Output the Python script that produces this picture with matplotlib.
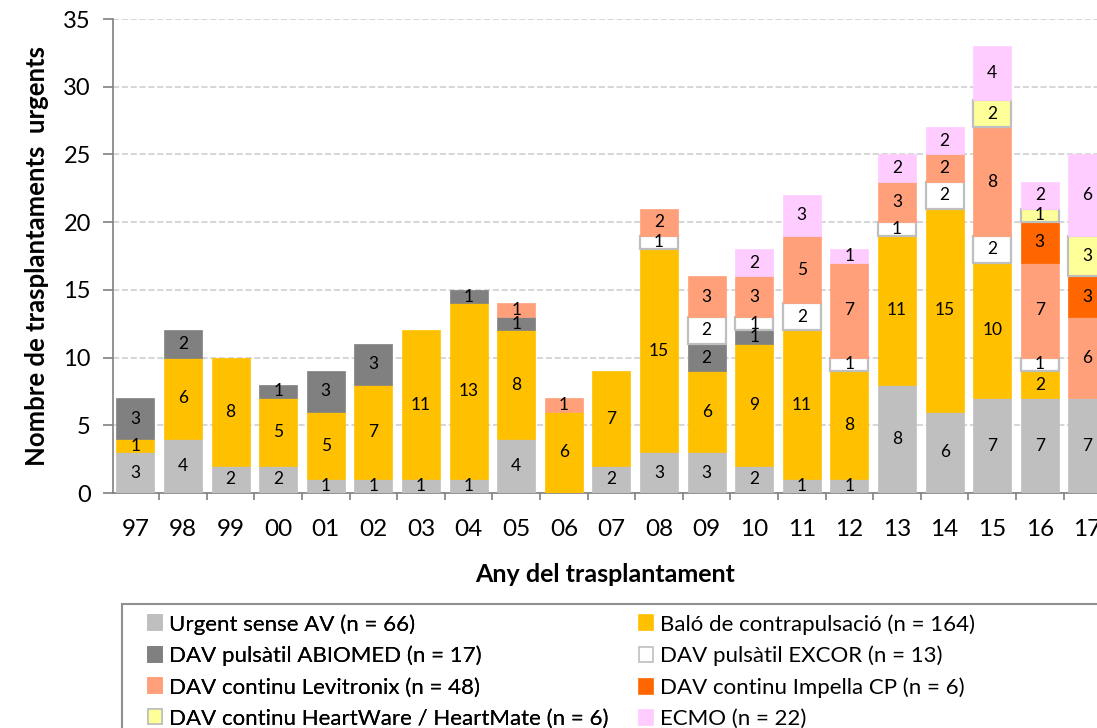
import numpy as np
import matplotlib.pyplot as plt
from matplotlib.patches import Rectangle, Patch

plt.rcParams['font.family'] = ['Lato', 'DejaVu Sans']

# Dades
anys = ['97', '98', '99', '00', '01', '02', '03', '04', '05', '06', '07',
        '08', '09', '10', '11', '12', '13', '14', '15', '16', '17']
urgent = [3, 4, 2, 2, 1, 1, 1, 1, 4, 0, 2, 3, 3, 2, 1, 1, 8, 6, 7, 7, 7]
balo = [1, 6, 8, 5, 5, 7, 11, 13, 8, 6, 7, 15, 6, 9, 11, 8, 11, 15, 10, 2, 0]
abiomed = [3, 2, 0, 1, 3, 3, 0, 1, 1, 0, 0, 0, 2, 1, 0, 0, 0, 0, 0, 0, 0]
excor = [0, 0, 0, 0, 0, 0, 0, 0, 0, 0, 0, 1, 2, 1, 2, 1, 1, 2, 2, 1, 0]
levitronix = [0, 0, 0, 0, 0, 0, 0, 0, 1, 1, 0, 2, 3, 3, 5, 7, 3, 2, 8, 7, 6]
impella = [0, 0, 0, 0, 0, 0, 0, 0, 0, 0, 0, 0, 0, 0, 0, 0, 0, 0, 0, 3, 3]
heartware = [0, 0, 0, 0, 0, 0, 0, 0, 0, 0, 0, 0, 0, 0, 0, 0, 0, 0, 2, 1, 3]
ecmo = [0, 0, 0, 0, 0, 0, 0, 0, 0, 0, 0, 0, 0, 2, 3, 1, 2, 2, 4, 2, 6]

series = [
    ('Urgent sense AV (n = 66)', urgent, '#BFBFBF', '#BFBFBF'),
    ('Baló de contrapulsació (n = 164)', balo, '#FFC000', '#FFC000'),
    ('DAV pulsàtil ABIOMED (n = 17)', abiomed, '#808080', '#808080'),
    ('DAV pulsàtil EXCOR (n = 13)', excor, '#FFFFFF', '#BFBFBF'),
    ('DAV continu Levitronix (n = 48)', levitronix, '#FFA07A', '#FFA07A'),
    ('DAV continu Impella CP (n = 6)', impella, '#FF6600', '#FF6600'),
    ('DAV continu HeartWare / HeartMate (n = 6)', heartware, '#FFFF99', '#BFBFBF'),
    ('ECMO (n = 22)', ecmo, '#FFCCFF', '#FFCCFF'),
]

W, H = 1097, 728
fig = plt.figure(figsize=(W / 100, H / 100), dpi=100)
ax = fig.add_axes([113 / W, 1 - 493 / H, 1 - 113 / W, (493 - 19) / H])

x = np.arange(len(anys))
bottom = np.zeros(len(anys))
handles = []
for label, vals, color, edge in series:
    vals = np.array(vals, dtype=float)
    lw = 1.6 if edge != color else 0.5
    m = vals > 0
    ax.bar(x[m], vals[m], 0.8, bottom=bottom[m], color=color, edgecolor=edge,
           linewidth=lw, zorder=3)
    for xi, b, v in zip(x[m], bottom[m], vals[m]):
        ax.text(xi, b + v / 2, '%d' % v, ha='center', va='center',
                fontsize=12.5, zorder=4)
    bottom += vals
    handles.append(Patch(facecolor=color, edgecolor=edge, linewidth=1.2))

ax.set_yticks(range(0, 36, 5))
ax.yaxis.grid(True, linestyle='--', color='#D0D0D0', linewidth=1.2, zorder=0)
ax.set_axisbelow(True)
ax.set_xticks(x)
ax.set_xticklabels(anys)
ax.set_xticks(np.arange(-0.5, len(anys), 1), minor=True)
ax.set_ylim(0, 35)
ax.set_xlim(-0.47, 20.2)
ax.tick_params(axis='x', which='major', length=0, labelsize=17.5, pad=19)
ax.tick_params(axis='x', which='minor', length=5, color='#808080', width=1.2)
ax.tick_params(axis='y', length=7, color='#808080', width=1.2, labelsize=17, pad=9)
for s in ['top', 'right']:
    ax.spines[s].set_visible(False)
for s in ['left', 'bottom']:
    ax.spines[s].set_color('#808080')
    ax.spines[s].set_linewidth(1.2)

ax.set_ylabel('Nombre de trasplantaments  urgents', fontsize=18.5, fontweight='bold', labelpad=10)
ax.set_xlabel('Any del trasplantament', fontsize=18, fontweight='bold', labelpad=16)

# Llegenda en dues columnes
col1 = [0, 2, 4, 6]
col2 = [1, 3, 5, 7]
kw = dict(loc='upper left', frameon=False, borderpad=0, borderaxespad=0,
          prop={'family': ['Lato', 'DejaVu Sans'], 'weight': 'normal', 'size': 16},
          handlelength=0.65, handleheight=0.65, handletextpad=0.3, labelspacing=0.5)
leg1 = fig.legend([handles[i] for i in col1], [series[i][0] for i in col1],
                  bbox_to_anchor=(148 / W, 1 - 614 / H), **kw)
fig.add_artist(leg1)
leg2 = fig.legend([handles[i] for i in col2], [series[i][0] for i in col2],
                  bbox_to_anchor=(639 / W, 1 - 614 / H), **kw)
fig.patches.append(Rectangle((122 / W, -0.05), 1.0, (728 - 604) / H + 0.05,
                             transform=fig.transFigure, fill=False,
                             edgecolor='#909090', linewidth=1.5))

fig.savefig('out.png', dpi=100)
